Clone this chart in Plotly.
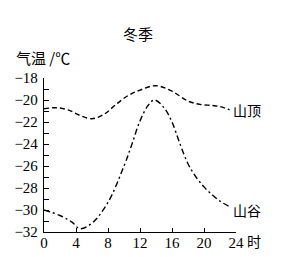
import plotly.graph_objects as go

hours_top = [0, 1.5, 3, 4.5, 6, 7.5, 9, 10.5, 12, 14, 16, 18, 19.5, 21, 22, 23.2]
temp_top = [-20.8, -20.7, -20.9, -21.4, -21.7, -21.3, -20.4, -19.6, -19.1, -18.7, -19.2, -20.1, -20.4, -20.5, -20.6, -20.9]

hours_valley = [0, 2, 3.5, 4.5, 6, 8, 10, 11, 12, 13, 13.8, 15, 16, 17, 18, 19, 20, 21, 22, 23.2]
temp_valley = [-30.0, -30.5, -31.1, -31.7, -31.2, -29.3, -26.0, -24.0, -21.9, -20.5, -20.0, -20.7, -22.0, -24.0, -25.8, -27.0, -27.9, -28.6, -29.2, -29.7]

x_ticks = [0, 4, 8, 12, 16, 20, 24]
y_ticks = [-18, -20, -22, -24, -26, -28, -30, -32]

serif = "Liberation Serif, serif"
cjk = "Noto Sans CJK SC"

L, R, T, B = 44, 47, 78, 25
W, H = 283, 257
PW, PH = W - L - R, H - T - B


def px(x):
    return (x - L) / PW


def py(y):
    return (H - B - y) / PH


fig = go.Figure()
fig.add_trace(go.Scatter(x=hours_top, y=temp_top, mode="lines",
                         line=dict(color="black", width=1.4, dash="5px,3px", shape="spline"),
                         showlegend=False))
fig.add_trace(go.Scatter(x=hours_valley, y=temp_valley, mode="lines",
                         line=dict(color="black", width=1.4, dash="6px,3px,2px,3px", shape="spline"),
                         showlegend=False))

fig.update_layout(
    width=W, height=H,
    margin=dict(l=L, r=R, t=T, b=B, autoexpand=False),
    plot_bgcolor="white", paper_bgcolor="white",
    xaxis=dict(range=[0, 24], tickvals=x_ticks, ticks="inside", ticklen=4, tickcolor="black",
               showline=True, linecolor="black", linewidth=1.3, showgrid=False, zeroline=False,
               automargin=False, ticklabelstandoff=-3,
               tickfont=dict(family=serif, size=15, color="black")),
    yaxis=dict(range=[-32, -18], tickvals=y_ticks, ticks="inside", ticklen=5, tickcolor="black",
               showline=True, linecolor="black", linewidth=1.3, showgrid=False, zeroline=False,
               automargin=False, ticklabelstandoff=2,
               tickfont=dict(family=serif, size=15, color="black"),
               minor=dict(dtick=1, ticks="inside", ticklen=5, tickcolor="black")),
)

fig.add_annotation(text="冬季", x=px(138), y=py(33), xref="paper", yref="paper",
                   xanchor="center", yanchor="middle",
                   showarrow=False, font=dict(family=cjk, size=15, color="black"))
fig.add_annotation(text="气温 /℃", x=px(14), y=py(58), xref="paper", yref="paper",
                   xanchor="left", yanchor="middle",
                   showarrow=False, font=dict(family=cjk, size=15, color="black"))
fig.add_annotation(text="山顶", x=23.4, y=-20.9, xref="x", yref="y", xanchor="left", yanchor="middle",
                   showarrow=False, font=dict(family=cjk, size=14, color="black"))
fig.add_annotation(text="山谷", x=23.4, y=-30.0, xref="x", yref="y", xanchor="left", yanchor="middle",
                   showarrow=False, font=dict(family=cjk, size=14, color="black"))
fig.add_annotation(text="时", x=px(245), y=py(241), xref="paper", yref="paper",
                   xanchor="left", yanchor="middle",
                   showarrow=False, font=dict(family=cjk, size=14, color="black"))

fig.write_html("out.html")
